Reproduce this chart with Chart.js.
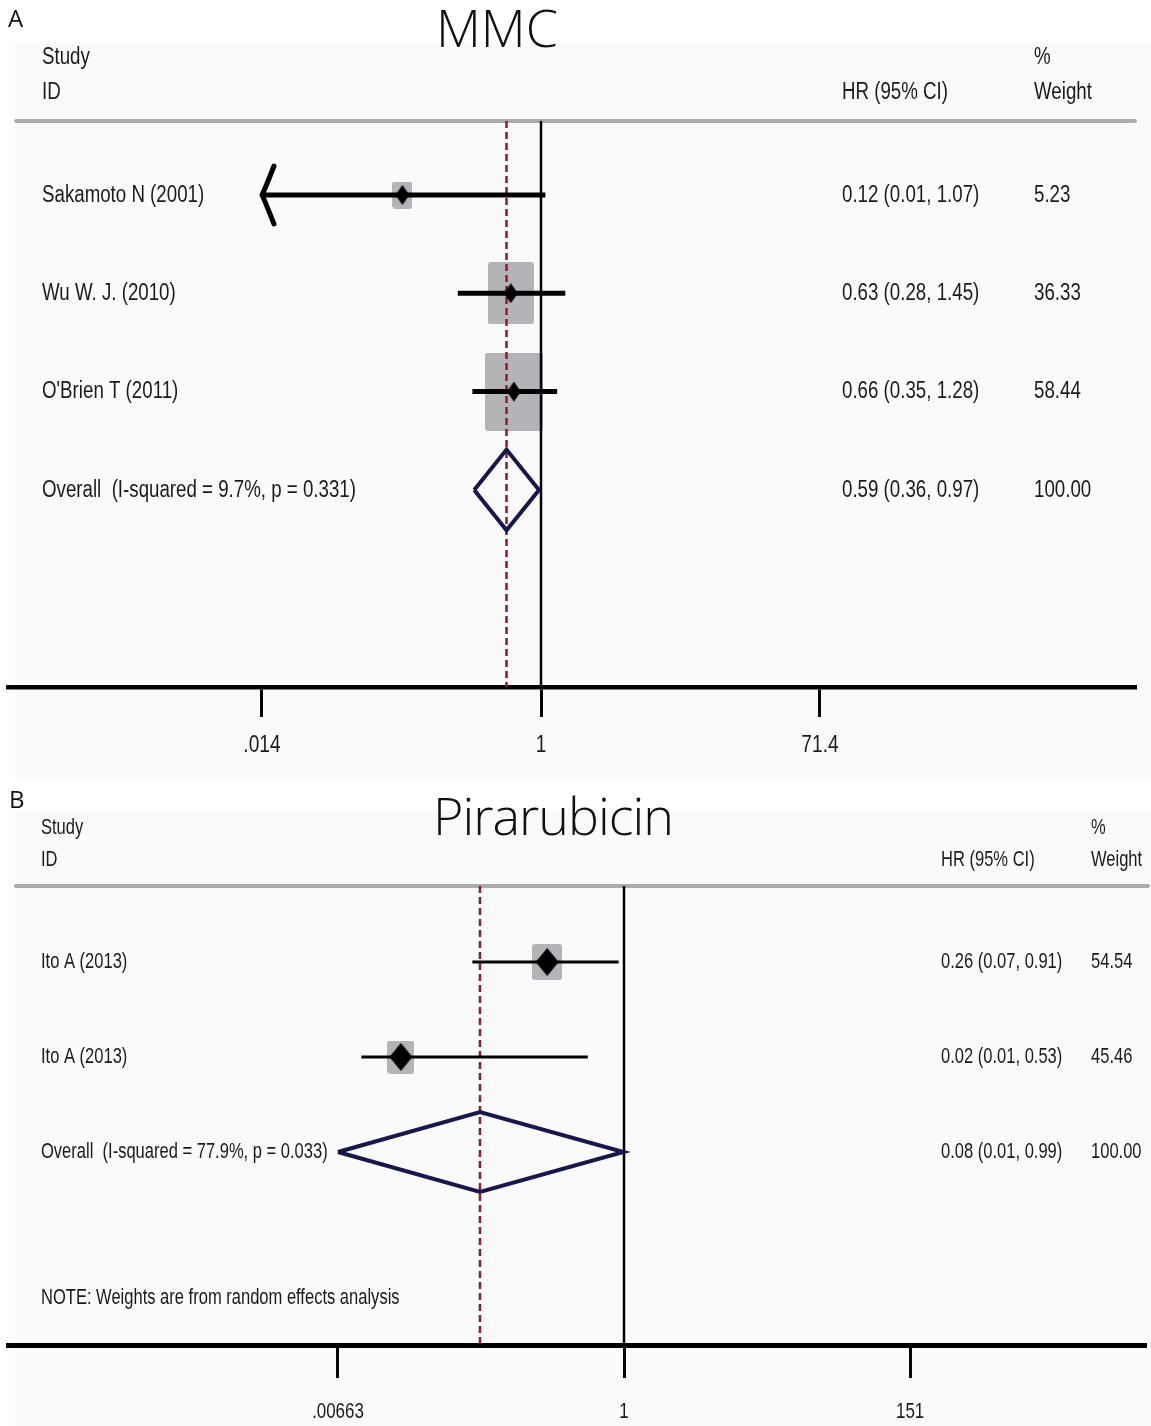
<!DOCTYPE html>
<html>
<head>
<meta charset="utf-8">
<title>Forest plots: MMC and Pirarubicin</title>
<script src="https://cdn.jsdelivr.net/npm/chart.js@4.4.1/dist/chart.umd.min.js"></script>
<style>
  html, body { margin: 0; padding: 0; background: #ffffff; }
  #page { position: relative; width: 1151px; height: 1426px; overflow: hidden; }
  canvas { position: absolute; left: 0; display: block; }
  #cvA { top: 0; }
  #cvB { top: 780px; }
  .lbl { position: absolute; font-family: 'Open Sans', 'Noto Sans', sans-serif; color: #111; line-height: 1; white-space: nowrap; z-index: 2; }
  .title { font-size: 52px; font-weight: 300; transform: translateX(-50%); }
  .tag { font-size: 24px; }
</style>
</head>
<body>
<div id="page">
  <canvas id="cvA" width="1151" height="780"></canvas>
  <canvas id="cvB" width="1151" height="646"></canvas>
  <div class="lbl tag" style="left:8px; top:6px;">A</div>
  <div class="lbl title" style="left:497px; top:1px;">MMC</div>
  <div class="lbl tag" style="left:9px; top:787px;">B</div>
  <div class="lbl title" style="left:553px; top:789px; letter-spacing:-1px;">Pirarubicin</div>
</div>
<script>
// ---------- Panel A: MMC ----------
const mmcStudies = ["Sakamoto N (2001)", "Wu W. J. (2010)", "O'Brien T (2011)"];
const mmcHR      = [0.12, 0.63, 0.66];
const mmcLower   = [0.01, 0.28, 0.35];
const mmcUpper   = [1.07, 1.45, 1.28];
const mmcWeight  = [5.23, 36.33, 58.44];
const mmcOverall = [0.59, 0.36, 0.97];          // pooled HR, lower, upper
const mmcOverallLabel = "Overall  (I-squared = 9.7%, p = 0.331)";
const mmcTicks      = [0.014, 1, 71.4];
const mmcTickLabels = [".014", "1", "71.4"];

// ---------- Panel B: Pirarubicin ----------
const piraStudies = ["Ito A (2013)", "Ito A (2013)"];
const piraHR      = [0.26, 0.02];
const piraLower   = [0.07, 0.01];
const piraUpper   = [0.91, 0.53];
const piraWeight  = [54.54, 45.46];
const piraOverall = [0.08, 0.00663, 0.99];      // pooled HR, lower, upper
const piraOverallLabel = "Overall  (I-squared = 77.9%, p = 0.033)";
const piraTicks      = [0.00663, 1, 151];
const piraTickLabels = [".00663", "1", "151"];
const piraNote = "NOTE: Weights are from random effects analysis";

// ---------- shared styling ----------
const TEXT = '#1a1a1a';
const BOX = '#b4b4b8';
const NAVY = '#17174c';
const POOLED = '#8c1c2e';
const HEAD_LINE = '#ababab';
const BODY_FONT = "'Liberation Sans', Arial, sans-serif";

// Small offscreen canvases used as point styles.
function boxImage(w, h) {
  const c = document.createElement('canvas');
  c.width = Math.round(w); c.height = Math.round(h);
  const g = c.getContext('2d');
  const r = 3;
  g.fillStyle = BOX;
  g.beginPath();
  g.moveTo(r, 0); g.lineTo(c.width - r, 0); g.quadraticCurveTo(c.width, 0, c.width, r);
  g.lineTo(c.width, c.height - r); g.quadraticCurveTo(c.width, c.height, c.width - r, c.height);
  g.lineTo(r, c.height); g.quadraticCurveTo(0, c.height, 0, c.height - r);
  g.lineTo(0, r); g.quadraticCurveTo(0, 0, r, 0);
  g.fill();
  return c;
}
function dotImage(w, h) {
  const c = document.createElement('canvas');
  c.width = Math.round(w); c.height = Math.round(h);
  const g = c.getContext('2d');
  g.fillStyle = '#000';
  g.beginPath();
  g.moveTo(c.width / 2, 0); g.lineTo(c.width, c.height / 2);
  g.lineTo(c.width / 2, c.height); g.lineTo(0, c.height / 2);
  g.closePath(); g.fill();
  return c;
}

// Condensed table text (Stata-style narrow lettering).
function drawLabel(ctx, txt, x, y, size, sx, sy, align) {
  ctx.save();
  ctx.translate(x, y);
  ctx.scale(sx, sy);
  ctx.font = size + 'px ' + BODY_FONT;
  ctx.textBaseline = 'middle';
  ctx.textAlign = align || 'left';
  ctx.fillStyle = TEXT;
  ctx.fillText(txt, 0, 0);
  ctx.restore();
}

function buildForest(canvasId, D, L) {
  const n = D.studies.length;
  const rows = D.studies.map((_, i) => i + 1);
  const overallRow = n + 1;
  const clipLo = D.ticks[0];
  const clipHi = D.ticks[D.ticks.length - 1];

  // axis extents: value 1 sits at L.onePx, L.pxPerDecade pixels per decade
  const xMin = Math.pow(10, (L.left - L.onePx) / L.pxPerDecade);
  const xMax = Math.pow(10, (L.right - L.onePx) / L.pxPerDecade);
  const rowAt = px => 1 + (px - L.firstRowPx) / L.rowPx;
  const yMin = rowAt(L.top);
  const yMax = rowAt(L.bottom);
  const headerRow = rowAt(L.headerPx);

  const fmt = v => v.toFixed(2);
  const hrText = (h, lo, hi) => fmt(h) + ' (' + fmt(lo) + ', ' + fmt(hi) + ')';

  const dotImg = dotImage(L.dotW, L.dotH);
  const boxImgs = D.weight.map(w => {
    const bw = Math.max(L.boxMin, L.boxScale * Math.sqrt(w));
    return boxImage(bw, bw * L.boxAspect);
  });

  const datasets = [];
  // study point estimates (drawn on top)
  datasets.push({
    data: D.hr.map((v, i) => ({ x: v, y: rows[i] })),
    pointStyle: dotImg, pointRadius: 1, showLine: false
  });
  // confidence intervals, clipped to the axis range
  D.hr.forEach((v, i) => {
    datasets.push({
      data: [{ x: Math.max(D.lower[i], clipLo), y: rows[i] }, { x: Math.min(D.upper[i], clipHi), y: rows[i] }],
      showLine: true, borderColor: '#000', borderWidth: L.ciW, pointRadius: 0, borderCapStyle: 'butt'
    });
  });
  // pooled estimate diamond
  const [oh, ol, ou] = D.overall;
  datasets.push({
    data: [
      { x: ol, y: overallRow }, { x: oh, y: overallRow - L.diaHalf },
      { x: ou, y: overallRow }, { x: oh, y: overallRow + L.diaHalf },
      { x: ol, y: overallRow }
    ],
    showLine: true, borderColor: NAVY, borderWidth: L.diaW, pointRadius: 0, borderJoinStyle: 'miter'
  });
  // pooled estimate reference (dashed)
  datasets.push({
    data: [{ x: oh, y: headerRow }, { x: oh, y: yMax }],
    showLine: true, borderColor: POOLED, borderWidth: L.dashW, borderDash: L.dash, pointRadius: 0
  });
  // line of no effect
  datasets.push({
    data: [{ x: 1, y: headerRow }, { x: 1, y: yMax }],
    showLine: true, borderColor: '#000', borderWidth: L.nullW, pointRadius: 0
  });
  // study weight boxes (drawn underneath)
  datasets.push({
    data: D.hr.map((v, i) => ({ x: v, y: rows[i] })),
    pointStyle: boxImgs, pointRadius: 1, showLine: false
  });

  const tablePlugin = {
    id: 'forestTable',
    beforeDraw(chart) {
      const ctx = chart.ctx;
      ctx.save();
      ctx.fillStyle = '#fafafa';
      ctx.fillRect(L.bgLeft, L.bgTop, chart.width - L.bgLeft, chart.height - L.bgTop);
      ctx.restore();
    },
    beforeDatasetsDraw(chart) {
      const ctx = chart.ctx, ys = chart.scales.y;
      const yy = ys.getPixelForValue(headerRow);
      ctx.save();
      ctx.strokeStyle = HEAD_LINE; ctx.lineWidth = L.headW; ctx.lineCap = 'round';
      ctx.beginPath(); ctx.moveTo(L.headLeft, yy); ctx.lineTo(L.headRight, yy); ctx.stroke();
      ctx.restore();
    },
    afterDatasetsDraw(chart) {
      const ctx = chart.ctx, xs = chart.scales.x, ys = chart.scales.y;
      // arrowheads where an interval runs past the axis range
      ctx.save();
      ctx.strokeStyle = '#000'; ctx.lineWidth = L.ciW; ctx.lineCap = 'round'; ctx.lineJoin = 'round';
      D.lower.forEach((lo, i) => {
        if (lo < clipLo) {
          const px = xs.getPixelForValue(clipLo), py = ys.getPixelForValue(rows[i]);
          ctx.beginPath();
          ctx.moveTo(px + L.arrowDx, py - L.arrowDy);
          ctx.quadraticCurveTo(px + 3, py - 6, px, py);
          ctx.quadraticCurveTo(px + 3, py + 6, px + L.arrowDx, py + L.arrowDy);
          ctx.stroke();
        }
      });
      ctx.restore();

      const f = L.font, sx = L.sx, sy = L.sy;
      const yS = ys.getPixelForValue(rowAt(L.studyPx));
      const yI = ys.getPixelForValue(rowAt(L.idPx));
      drawLabel(ctx, 'Study', L.colStudy, yS, f, sx, sy);
      drawLabel(ctx, 'ID', L.colStudy, yI, f, sx, sy);
      drawLabel(ctx, 'HR (95% CI)', L.colHR, yI, f, sx, sy);
      drawLabel(ctx, '%', L.colW, yS, f, sx, sy);
      drawLabel(ctx, 'Weight', L.colW, yI, f, sx, sy);
      D.studies.forEach((s, i) => {
        const y = ys.getPixelForValue(rows[i]);
        drawLabel(ctx, s, L.colStudy, y, f, sx, sy);
        drawLabel(ctx, hrText(D.hr[i], D.lower[i], D.upper[i]), L.colHR, y, f, sx, sy);
        drawLabel(ctx, fmt(D.weight[i]), L.colW, y, f, sx, sy);
      });
      const yo = ys.getPixelForValue(overallRow);
      drawLabel(ctx, D.overallLabel, L.colStudy, yo, f, sx, sy);
      drawLabel(ctx, hrText(oh, ol, ou), L.colHR, yo, f, sx, sy);
      const totalW = D.weight.reduce((a, b) => a + b, 0);
      drawLabel(ctx, fmt(Math.round(totalW)), L.colW, yo, f, sx, sy);
      if (D.note) drawLabel(ctx, D.note, L.colStudy, ys.getPixelForValue(rowAt(L.notePx)), f, sx, sy);
    },
    afterDraw(chart) {
      // axis tick labels, in the same condensed lettering, at the scale's tick positions
      const xs = chart.scales.x;
      xs.ticks.forEach((t, i) => {
        drawLabel(chart.ctx, D.tickLabels[i], xs.getPixelForValue(t.value), L.tickLabelPx, L.tickFont, L.sx, L.sy, 'center');
      });
    }
  };

  return new Chart(document.getElementById(canvasId), {
    type: 'scatter',
    data: { datasets },
    plugins: [tablePlugin],
    options: {
      responsive: false,
      animation: false,
      events: [],
      devicePixelRatio: 1,
      layout: { padding: { left: L.left, right: L.canvasW - L.right, top: L.top, bottom: 0 } },
      plugins: { legend: { display: false }, tooltip: { enabled: false }, title: { display: false } },
      scales: {
        x: {
          type: 'logarithmic',
          min: xMin, max: xMax,
          afterBuildTicks: s => { s.ticks = D.ticks.map(v => ({ value: v })); },
          afterFit: s => { s.height = L.canvasH - L.bottom; },
          ticks: { display: false, autoSkip: false, maxRotation: 0, minRotation: 0 },
          grid: { drawOnChartArea: false, drawTicks: true, tickLength: L.tickLen, color: '#000', lineWidth: L.tickW },
          border: { display: true, color: '#000', width: L.axisW }
        },
        y: { type: 'linear', reverse: true, min: yMin, max: yMax, display: false }
      }
    }
  });
}

buildForest('cvA', {
  studies: mmcStudies, hr: mmcHR, lower: mmcLower, upper: mmcUpper, weight: mmcWeight,
  overall: mmcOverall, overallLabel: mmcOverallLabel, ticks: mmcTicks, tickLabels: mmcTickLabels, note: null
}, {
  canvasW: 1151, canvasH: 780, left: 8, right: 1135, top: 40, bottom: 687,
  onePx: 541, pxPerDecade: 150.5, firstRowPx: 195, rowPx: 98.3, headerPx: 121,
  studyPx: 57, idPx: 92, notePx: 0,
  colStudy: 42, colHR: 842, colW: 1034, font: 21.5, sx: 0.87, sy: 1.12,
  bgLeft: 15, bgTop: 42, headLeft: 16, headRight: 1135, headW: 4,
  ciW: 5, nullW: 2.5, dashW: 2.5, dash: [7, 4], diaW: 4, diaHalf: 0.41,
  dotW: 14, dotH: 20, boxScale: 7.6, boxAspect: 1.35, boxMin: 20,
  arrowDx: 12, arrowDy: 29,
  tickLen: 30, tickW: 3, axisW: 4.5, tickLabelPx: 745, tickFont: 22
});

buildForest('cvB', {
  studies: piraStudies, hr: piraHR, lower: piraLower, upper: piraUpper, weight: piraWeight,
  overall: piraOverall, overallLabel: piraOverallLabel, ticks: piraTicks, tickLabels: piraTickLabels, note: piraNote
}, {
  canvasW: 1151, canvasH: 646, left: 8, right: 1145, top: 20, bottom: 565,
  onePx: 624, pxPerDecade: 131.3, firstRowPx: 182, rowPx: 95, headerPx: 106,
  studyPx: 48, idPx: 80, notePx: 518,
  colStudy: 41, colHR: 941, colW: 1091, font: 19, sx: 0.87, sy: 1.12,
  bgLeft: 15, bgTop: 30, headLeft: 16, headRight: 1148, headW: 4,
  ciW: 3, nullW: 2.5, dashW: 2.5, dash: [7, 4], diaW: 4, diaHalf: 0.42,
  dotW: 23, dotH: 28, boxScale: 4.0, boxAspect: 1.22, boxMin: 20,
  arrowDx: 12, arrowDy: 28,
  tickLen: 33, tickW: 3, axisW: 5, tickLabelPx: 632, tickFont: 19.5
});
</script>
</body>
</html>
